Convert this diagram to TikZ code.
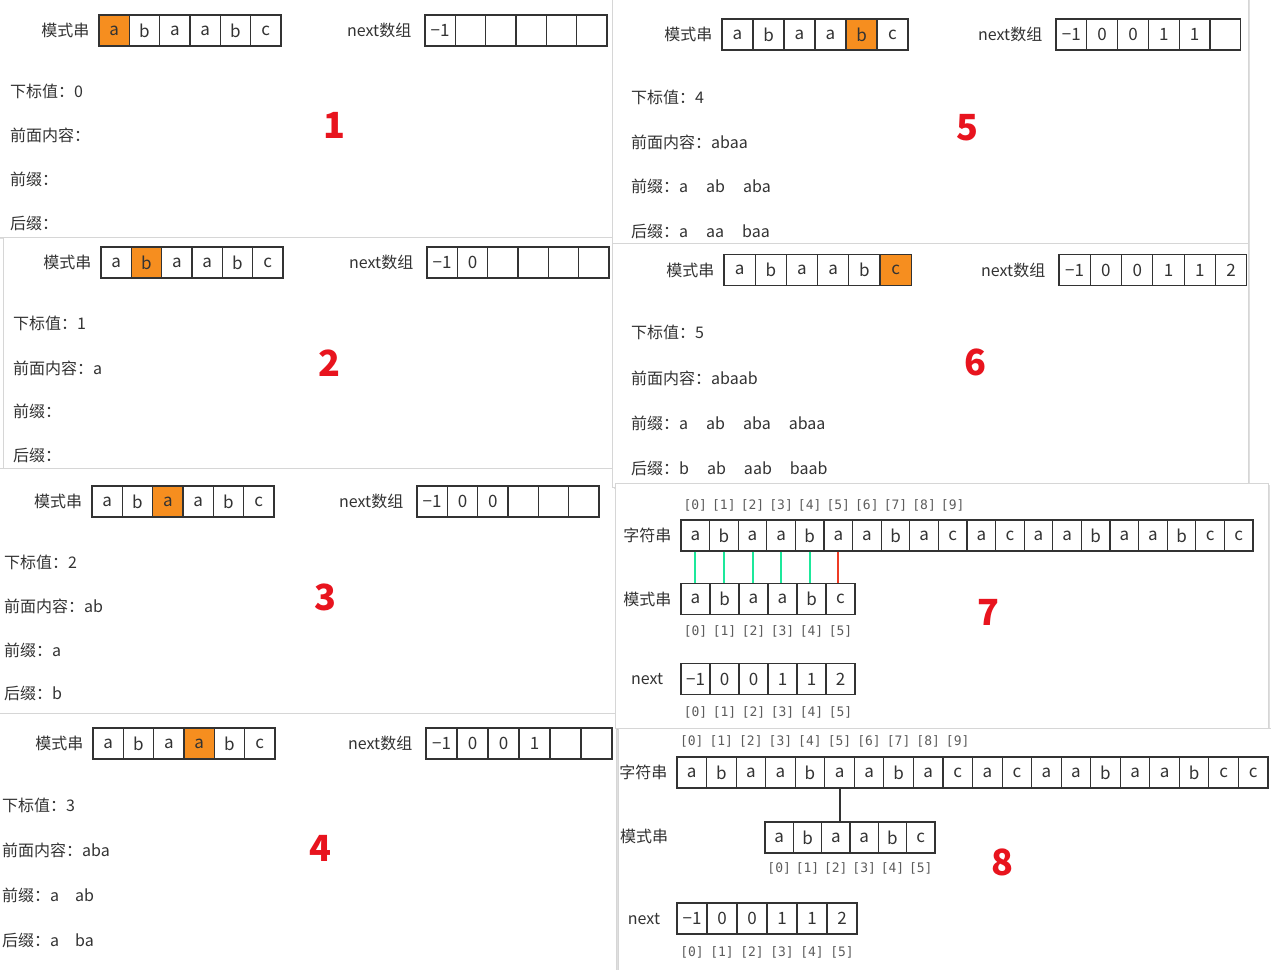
\documentclass[tikz,border=0pt]{standalone}
\usepackage{fontspec}
\setmainfont{Noto Sans CJK SC}
\newfontfamily\idxfont{DejaVu Sans Mono}
\usetikzlibrary{positioning,shadows}
\definecolor{kmptext}{HTML}{333333}
\definecolor{kmporange}{HTML}{F68E1F}
\definecolor{kmpgreen}{HTML}{1DE89B}
\definecolor{kmpred}{HTML}{EE3B24}
\definecolor{kmpnum}{HTML}{E8141E}
\definecolor{kmpframe}{HTML}{D6D6D6}
\tikzstyle{panel} = [fill=white, draw=kmpframe, line width=1pt,
    drop shadow={opacity=0.25, shadow xshift=2pt, shadow yshift=-2pt}]
\tikzstyle{cell} = [rectangle, draw=kmptext, line width=1.1pt, minimum height=31pt,
    inner sep=0pt, font=\fontsize{17}{17}\selectfont, text=kmptext]
\tikzstyle{lbl} = [font=\fontsize{16}{16}\selectfont, text=kmptext, inner sep=0pt]
\tikzstyle{info} = [lbl, anchor=west]
\tikzstyle{idx} = [font=\idxfont\fontsize{13}{13}\selectfont, text=kmptext!80, inner sep=0pt]
\tikzstyle{stepnum} = [font=\bfseries\fontsize{36}{36}\selectfont, text=kmpnum]
\tikzstyle{match} = [line width=2pt, kmpgreen]
\tikzstyle{miss} = [line width=2pt, kmpred]
% one row of boxes: name, left x, centre y, box width, values, orange box (0 = none)
\newcommand{\drawcells}[6]{%
  \foreach \v [count=\i] in {#5} {
    \ifnum\i=#6\relax\def\cellfill{kmporange}\else\def\cellfill{white}\fi
    \node[cell, minimum width=#4, fill=\cellfill] (#1\i) at ({#2+#4*(\i-0.5)},#3) {\v};
  }%
}

\begin{document}
\begin{tikzpicture}[x=1pt, y=-1pt]
\useasboundingbox (0,0) rectangle (1271,969);

% step 1
\draw[panel] (-3,-3) rectangle (612,237);
\drawcells{p1m}{99}{30.5}{30.33}{a,b,a,a,b,c}{1}
\drawcells{p1n}{425}{30.5}{30.33}{−1,,,,,}{0}
\node[lbl, left=9pt of p1m1] (p1mlbl) {模式串};
\node[lbl, left=13pt of p1n1] (p1nlbl) {next数组};
\node[info] (p1i) at (10,91) {下标值：0};
\node[info] (p1c) at (10,135) {前面内容：};
\node[info] (p1p) at (10,179) {前缀：};
\node[info] (p1s) at (10,223) {后缀：};
\node[stepnum] (p1no) at (334,125) {1};

% step 2
\draw[panel] (3,237) rectangle (612,468);
\drawcells{p2m}{101}{262.5}{30.33}{a,b,a,a,b,c}{2}
\drawcells{p2n}{427}{262.5}{30.33}{−1,0,,,,}{0}
\node[lbl, left=9pt of p2m1] (p2mlbl) {模式串};
\node[lbl, left=13pt of p2n1] (p2nlbl) {next数组};
\node[info] (p2i) at (13,323) {下标值：1};
\node[info] (p2c) at (13,368) {前面内容：a};
\node[info] (p2p) at (13,411) {前缀：};
\node[info] (p2s) at (13,455) {后缀：};
\node[stepnum] (p2no) at (329,363) {2};

% step 3
\draw[panel] (-3,468) rectangle (615,713);
\drawcells{p3m}{92}{501.5}{30.33}{a,b,a,a,b,c}{3}
\drawcells{p3n}{417}{501.5}{30.33}{−1,0,0,,,}{0}
\node[lbl, left=9pt of p3m1] (p3mlbl) {模式串};
\node[lbl, left=13pt of p3n1] (p3nlbl) {next数组};
\node[info] (p3i) at (4,562) {下标值：2};
\node[info] (p3c) at (4,606) {前面内容：ab};
\node[info] (p3p) at (4,650) {前缀：a};
\node[info] (p3s) at (4,693) {后缀：b};
\node[stepnum] (p3no) at (325,597) {3};

% step 4
\draw[panel] (-3,713) rectangle (616,972);
\drawcells{p4m}{93}{743.5}{30.33}{a,b,a,a,b,c}{4}
\drawcells{p4n}{426}{743.5}{31}{−1,0,0,1,,}{0}
\node[lbl, left=9pt of p4m1] (p4mlbl) {模式串};
\node[lbl, left=13pt of p4n1] (p4nlbl) {next数组};
\node[info] (p4i) at (2,805) {下标值：3};
\node[info] (p4c) at (2,850) {前面内容：aba};
\node[info] (p4p) at (2,895) {前缀：a\hspace{16pt}ab};
\node[info] (p4s) at (2,940) {后缀：a\hspace{16pt}ba};
\node[stepnum] (p4no) at (320,848) {4};

% step 5
\draw[panel] (612,-3) rectangle (1248,243);
\drawcells{p5m}{722}{34.5}{31}{a,b,a,a,b,c}{5}
\drawcells{p5n}{1056}{34.5}{30.8}{−1,0,0,1,1,}{0}
\node[lbl, left=9pt of p5m1] (p5mlbl) {模式串};
\node[lbl, left=13pt of p5n1] (p5nlbl) {next数组};
\node[info] (p5i) at (631,97) {下标值：4};
\node[info] (p5c) at (631,142) {前面内容：abaa};
\node[info] (p5p) at (631,186) {前缀：a\hspace{18pt}ab\hspace{18pt}aba};
\node[info] (p5s) at (631,231) {后缀：a\hspace{18pt}aa\hspace{18pt}baa};
\node[stepnum] (p5no) at (967,128) {5};

% step 6
\draw[panel] (612,243) rectangle (1248,487);
\drawcells{p6m}{724}{270}{31.2}{a,b,a,a,b,c}{6}
\drawcells{p6n}{1059}{270}{31.3}{−1,0,0,1,1,2}{0}
\node[lbl, left=9pt of p6m1] (p6mlbl) {模式串};
\node[lbl, left=13pt of p6n1] (p6nlbl) {next数组};
\node[info] (p6i) at (631,332) {下标值：5};
\node[info] (p6c) at (631,378) {前面内容：abaab};
\node[info] (p6p) at (631,423) {前缀：a\hspace{18pt}ab\hspace{18pt}aba\hspace{18pt}abaa};
\node[info] (p6s) at (631,468) {后缀：b\hspace{18pt}ab\hspace{18pt}aab\hspace{18pt}baab};
\node[stepnum] (p6no) at (975,362) {6};

% step 7
\draw[panel] (615,483) rectangle (1268,728);
\drawcells{s7}{681}{535.5}{28.6}{a,b,a,a,b,a,a,b,a,c,a,c,a,a,b,a,a,b,c,c}{0}
\drawcells{m7}{681}{599}{29}{a,b,a,a,b,c}{0}
\drawcells{n7}{681}{679}{29}{−1,0,0,1,1,2}{0}
\node[lbl, left=9pt of s71] (s7lbl) {字符串};
\node[lbl, left=9pt of m71] (m7lbl) {模式串};
\node[lbl, left=17pt of n71] (n7lbl) {next};
\foreach \k [count=\i] in {0,...,9}
  \node[idx, above=8pt of s7\i] (i7s\i) {[\k]};
\foreach \k [count=\i] in {0,...,5} {
  \node[idx, below=10pt of m7\i] (i7m\i) {[\k]};
  \node[idx, below=11pt of n7\i] (i7n\i) {[\k]};
}
\foreach \i in {1,...,5}
  \draw[match] (s7\i.south) -- (s7\i.south |- m7\i.north);
\draw[miss] (s76.south) -- (s76.south |- m76.north);
\node[stepnum] (p7no) at (988,612) {7};

% step 8
\draw[panel] (618,728) rectangle (1274,972);
\drawcells{s8}{677}{772.5}{29.55}{a,b,a,a,b,a,a,b,a,c,a,c,a,a,b,a,a,b,c,c}{0}
\drawcells{m8}{765}{837.5}{28.33}{a,b,a,a,b,c}{0}
\drawcells{n8}{677}{918.5}{30}{−1,0,0,1,1,2}{0}
\node[lbl, left=9pt of s81] (s8lbl) {字符串};
\node[lbl] (m8lbl) at (644,836) {模式串};
\node[lbl] (n8lbl) at (644,919) {next};
\foreach \k [count=\i] in {0,...,9}
  \node[idx, above=9pt of s8\i] (i8s\i) {[\k]};
\foreach \k [count=\i] in {0,...,5} {
  \node[idx, below=9pt of m8\i] (i8m\i) {[\k]};
  \node[idx, below=12pt of n8\i] (i8n\i) {[\k]};
}
\draw[line width=2pt, kmptext] (s86.south) -- (s86.south |- m83.north);
\node[stepnum] (p8no) at (1002,862) {8};
\end{tikzpicture}
\end{document}
